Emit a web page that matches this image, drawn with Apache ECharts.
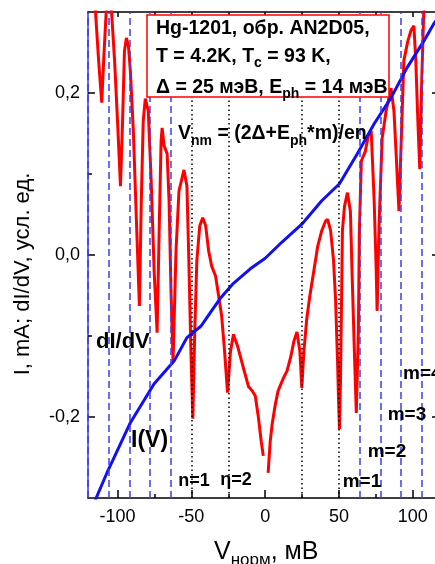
<!DOCTYPE html>
<html>
<head>
<meta charset="utf-8">
<script src="https://cdn.jsdelivr.net/npm/echarts@6/dist/echarts.min.js"></script>
<style>
  html, body { margin: 0; padding: 0; background: #fff; }
  #chart { width: 435px; height: 564px; }
</style>
</head>
<body>
<div id="chart"></div>
<script>
// dI/dV trace (mV, a.u.), '-' marks the break at zero bias
const didv = [
  [-115.4, 0.314], [-112.8, 0.24], [-110.7, 0.188], [-109.4, 0.24], [-107.4, 0.31],
  [-106, 0.32], [-104, 0.299], [-102, 0.24], [-100, 0.165], [-98, 0.085],
  [-96.6, 0.165], [-95.3, 0.252], [-94, 0.268], [-92.6, 0.258], [-91.3, 0.227],
  [-89.3, 0.153], [-87.2, 0.042], [-85.2, -0.063], [-83.9, 0.067], [-82.6, 0.165],
  [-81.2, 0.193], [-79.2, 0.178], [-77.2, 0.091], [-75.2, -0.02], [-73.2, -0.096],
  [-71.8, 0.03], [-70.5, 0.141], [-69.8, 0.157], [-68.5, 0.135], [-66.4, 0.125],
  [-65.1, 0.067], [-63.8, -0.044], [-62.4, -0.131], [-60.4, 0.005], [-58.4, 0.079],
  [-55, 0.105], [-53, 0.085], [-51.7, -0.007], [-50.3, -0.119], [-49, -0.202],
  [-47.7, -0.094], [-46.3, -0.007], [-44.3, 0.036], [-42.3, 0.046], [-40.3, 0.036],
  [-38.3, 0.005], [-36.2, -0.014], [-33.6, -0.026], [-31.5, -0.051], [-29.5, -0.075],
  [-27.5, -0.119], [-25.5, -0.17], [-23.5, -0.119], [-21.5, -0.098], [-18.8, -0.112],
  [-15.4, -0.135], [-11.4, -0.162], [-8.7, -0.168], [-6.7, -0.174], [-4.7, -0.199],
  [-2.7, -0.23], [-1.3, -0.248], [0.4, '-'], [2, -0.269], [3.4, -0.23],
  [4.7, -0.209], [6.7, -0.186], [8.7, -0.168], [12.1, -0.153], [14.8, -0.143],
  [17.4, -0.125], [19.5, -0.106], [21.5, -0.095], [23.5, -0.119], [24.8, -0.164],
  [26.2, -0.119], [28.2, -0.078], [30.2, -0.051], [32.9, -0.02], [35.6, 0.011],
  [38.3, 0.03], [40.9, 0.042], [42.3, 0.044], [44.3, 0.03], [46.3, -0.007],
  [47.7, -0.057], [49, -0.131], [49.7, -0.18], [50.3, -0.215], [51, -0.156],
  [51.7, -0.057], [52.3, 0.03], [53.7, 0.06], [55.7, 0.077], [57.7, 0.054],
  [59, -0.032], [60.4, -0.119], [61.7, -0.195], [63.1, -0.094], [63.8, 0.03],
  [65.1, 0.116], [67.8, 0.128], [69.8, 0.147], [71.8, 0.153], [73.8, 0.067],
  [75.2, -0.02], [75.8, -0.069], [77.2, 0.042], [79.2, 0.144], [81.9, 0.178],
  [85.2, 0.206], [87.2, 0.178], [88.6, 0.128], [89.9, 0.079], [90.6, 0.054],
  [91.9, 0.128], [93.9, 0.24], [96.6, 0.264], [98.7, 0.277], [100.7, 0.283],
  [102, 0.24], [103.4, 0.165], [104.7, 0.106], [106, 0.215], [107.4, 0.301],
  [109.4, 0.326]
]

// I(V) trace
const iv = [
  [-115.4, -0.304], [-106.7, -0.267], [-91.3, -0.207], [-75.2, -0.159], [-61.7, -0.131],
  [-53, -0.102], [-43.6, -0.088], [-30.2, -0.053], [-21.5, -0.035], [-10.1, -0.017],
  [0, -0.004], [11.4, 0.016], [24.8, 0.038], [38.3, 0.067], [50.3, 0.088],
  [62.4, 0.125], [73.8, 0.162], [85.2, 0.194], [96, 0.231], [107.4, 0.264],
  [114, 0.285], [116, 0.29]
]

// 2Δ/n (dotted) and (2Δ + Eph*m) (dashed), mV
const gapLines = [-50, -25, 25, 50]
const phononLines = [-120, -106, -92, -78, -64, 64, 78, 92, 106]

const xTicks = [-100, -50, 0, 50, 100]
const xMinor = [-75, -25, 25, 75]
const xTopTicks = [-100, -75, -50, -25, 0, 25, 50, 75, 100]
const yTicks = [-0.2, 0, 0.2]
const yMinor = [-0.1, 0.1]

const FONT = '"Liberation Sans", Arial, sans-serif'
const chart = echarts.init(document.getElementById('chart'))

function bold(size) {
  return { fontFamily: FONT, fontWeight: 'bold', fontSize: size, fill: '#000' }
}

const subRich = (base, sub, lh) => ({
  b: { fontFamily: FONT, fontWeight: 'bold', fontSize: base, lineHeight: lh, color: '#000' },
  s: { fontFamily: FONT, fontWeight: 'bold', fontSize: sub, lineHeight: sub, verticalAlign: 'bottom', color: '#000' }
})

const tickStyle = { color: '#000', width: 1.5 }

// the original frame runs past the right edge of the picture, so the
// visible part stops at about +115 mV
const option = {
  animation: false,
  grid: { left: 88, right: 0, top: 12, bottom: 66 },
  xAxis: [
    {
      type: 'value', min: -120, max: 115, position: 'bottom',
      axisLine: { onZero: false, lineStyle: { color: '#000', width: 1.5 } },
      axisTick: { inside: true, length: 8, customValues: xTicks, lineStyle: tickStyle },
      axisLabel: { customValues: xTicks, fontFamily: FONT, fontSize: 18, color: '#000', margin: 10 },
      splitLine: { show: false }
    },
    {
      type: 'value', min: -120, max: 115, position: 'bottom',
      axisLine: { show: false, onZero: false },
      axisTick: { inside: true, length: 4, customValues: xMinor, lineStyle: tickStyle },
      axisLabel: { show: false },
      splitLine: { show: false }
    },
    {
      type: 'value', min: -120, max: 115, position: 'top',
      axisLine: { onZero: false, lineStyle: { color: '#000', width: 1.5 } },
      axisTick: { inside: true, length: 5, customValues: xTopTicks, lineStyle: tickStyle },
      axisLabel: { show: false },
      splitLine: { show: false }
    }
  ],
  yAxis: [
    {
      type: 'value', min: -0.3, max: 0.3, position: 'left',
      axisLine: { onZero: false, lineStyle: { color: '#3a3ae0', width: 1.5 } },
      axisTick: { inside: true, length: 7, customValues: yTicks, lineStyle: tickStyle },
      axisLabel: {
        customValues: yTicks, fontFamily: FONT, fontSize: 18, color: '#000', margin: 8,
        formatter: v => v.toFixed(1).replace('.', ',')
      },
      splitLine: { show: false }
    },
    {
      type: 'value', min: -0.3, max: 0.3, position: 'left',
      axisLine: { show: false, onZero: false },
      axisTick: { inside: true, length: 4, customValues: yMinor, lineStyle: tickStyle },
      axisLabel: { show: false },
      splitLine: { show: false }
    },
    {
      type: 'value', min: -0.3, max: 0.3, position: 'right',
      axisLine: { show: false, onZero: false },
      axisTick: { inside: true, length: 3, customValues: yTicks, lineStyle: tickStyle },
      axisLabel: { show: false },
      splitLine: { show: false }
    }
  ],
  series: [
    {
      name: 'lines', type: 'line', data: [], z: 1,
      markLine: {
        silent: true, symbol: 'none', label: { show: false },
        data: phononLines.map(v => ({ xAxis: v, lineStyle: { color: '#3c3cf5', type: [7, 4], width: 1.5 } }))
          .concat(gapLines.map(v => ({ xAxis: v, lineStyle: { color: '#000', type: [1.5, 3], width: 1.5 } })))
      }
    },
    {
      name: 'I(V)', type: 'line', data: iv, showSymbol: false, z: 3,
      lineStyle: { color: '#1010f0', width: 3 }
    },
    {
      name: 'dI/dV', type: 'line', data: didv, showSymbol: false, z: 2,
      lineStyle: { color: '#ff0000', width: 3 }
    }
  ],
  graphic: [
    {
      type: 'rect', z: 100,
      shape: { x: 147, y: 15, width: 242, height: 82 },
      style: { fill: '#fff', stroke: '#ff0000', lineWidth: 1.5 }
    },
    {
      type: 'text', z: 101, x: 156, y: 29,
      style: { text: 'Hg-1201, обр. AN2D05,', ...bold(19.5), verticalAlign: 'middle' }
    },
    {
      type: 'text', z: 101, x: 156, y: 57,
      style: { text: '{b|T = 4.2K, T}{s|c}{b| = 93 K,}', rich: subRich(19.5, 14, 26), verticalAlign: 'middle' }
    },
    {
      type: 'text', z: 101, x: 156, y: 88,
      style: { text: '{b|Δ = 25 мэВ, E}{s|ph}{b| = 14 мэВ}', rich: subRich(19.5, 14, 26), verticalAlign: 'middle' }
    },
    {
      type: 'text', z: 101, x: 178, y: 134,
      style: { text: '{b|V}{s|nm}{b| = (2Δ+E}{s|ph}{b|*m)/en}', rich: subRich(19.5, 14, 28), verticalAlign: 'middle' }
    },
    { type: 'text', z: 101, x: 96, y: 342, style: { text: 'dI/dV', ...bold(22), verticalAlign: 'middle' } },
    { type: 'text', z: 101, x: 131, y: 441, style: { text: 'I(V)', ...bold(23), verticalAlign: 'middle' } },
    { type: 'text', z: 101, x: 194, y: 481, style: { text: 'n=1', ...bold(18), align: 'center', verticalAlign: 'middle' } },
    { type: 'text', z: 101, x: 236, y: 480, style: { text: 'η=2', ...bold(18), align: 'center', verticalAlign: 'middle' } },
    { type: 'text', z: 101, x: 362, y: 482, style: { text: 'm=1', ...bold(19), align: 'center', verticalAlign: 'middle' } },
    { type: 'text', z: 101, x: 387, y: 452, style: { text: 'm=2', ...bold(19), align: 'center', verticalAlign: 'middle' } },
    { type: 'text', z: 101, x: 407, y: 415, style: { text: 'm=3', ...bold(19), align: 'center', verticalAlign: 'middle' } },
    { type: 'text', z: 101, x: 403, y: 374, style: { text: 'm=4', ...bold(19), verticalAlign: 'middle' } },
    {
      type: 'text', z: 101, x: 23, y: 274, rotation: Math.PI / 2,
      style: { text: 'I, mA; dI/dV, усл. ед.', fontFamily: FONT, fontSize: 22, fill: '#000', align: 'center', verticalAlign: 'middle' }
    },
    {
      type: 'text', z: 101, x: 214, y: 552,
      style: {
        text: '{b|V}{s|норм}{b|, мВ}',
        rich: {
          b: { fontFamily: FONT, fontSize: 25, lineHeight: 34, color: '#000' },
          s: { fontFamily: FONT, fontSize: 17, lineHeight: 17, verticalAlign: 'bottom', color: '#000' }
        },
        verticalAlign: 'middle'
      }
    }
  ]
}

chart.setOption(option)
</script>
</body>
</html>
